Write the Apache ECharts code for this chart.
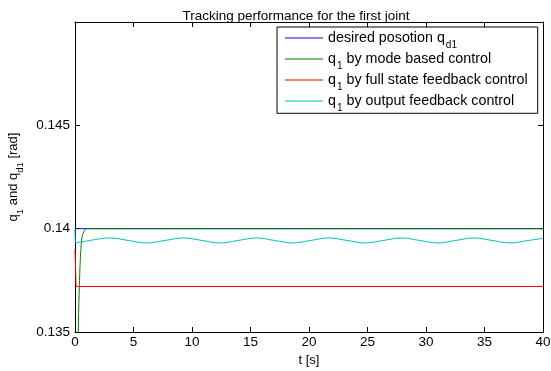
<!DOCTYPE html>
<html>
<head>
<meta charset="utf-8">
<script src="https://cdn.jsdelivr.net/npm/echarts@6/dist/echarts.min.js"></script>
<style>
  html, body { margin: 0; padding: 0; background: #fff; }
  #chart { width: 551px; height: 371px; }
</style>
</head>
<body>
<div id="chart"></div>
<script>
// Joint 1 position traces (time in seconds, angle in rad)
const seriesNames = [
  'desired posotion q_d1',
  'q_1 by mode based control',
  'q_1 by full state feedback control',
  'q_1 by output feedback control'
];
const seriesColors = ['#0000ff', '#008000', '#ff0000', '#00bfbf'];

const tDesired = [0, 40];
const qDesired = [0.14, 0.14];

const tMode = [0.2, 0.28, 0.35, 0.43, 0.5, 0.6, 0.75, 1.0, 40];
const qMode = [0.131, 0.135, 0.1368, 0.1382, 0.1390, 0.1396, 0.13985, 0.14, 0.14];

const tFull = [0, 0.09, 40];
const qFull = [0.139, 0.1372, 0.1372];

const tOutput = [0, 0.05, 0.3, 1.0, 2.0, 3.0, 4.55, 6.1, 7.7, 9.3, 10.85, 12.4, 13.95,
  15.5, 17.05, 18.6, 20.15, 21.7, 23.25, 24.8, 26.35, 27.9, 29.45, 31.0, 32.55,
  34.1, 35.65, 37.2, 38.75, 40];
const qOutput = [0.14, 0.13932, 0.13934, 0.13940, 0.13950, 0.13955, 0.13943, 0.13931,
  0.13943, 0.13955, 0.13943, 0.13931, 0.13943, 0.13955, 0.13943, 0.13931, 0.13943,
  0.13955, 0.13943, 0.13931, 0.13943, 0.13955, 0.13943, 0.13931, 0.13943, 0.13955,
  0.13943, 0.13931, 0.13943, 0.13953];

const xTicks = { min: 0, max: 40, step: 5 };
const yTicks = { min: 0.135, max: 0.15, step: 0.005 };

const titleText = 'Tracking performance for the first joint';
const xLabel = 't [s]';
const yLabel = 'q_1 and q_d1 [rad]';

// turn "q_xx" into rich-text with a subscript
function subscript(s) {
  const out = '{n|' + s.replace(/q_(\w+)/g, '}{n|q}{s|$1}{n|') + '}';
  return out.replace(/\{n\|\}/g, '');
}

function pairs(ts, qs) { return ts.map((t, i) => [t, qs[i]]); }

const font = 'Liberation Sans, Arial, Helvetica, sans-serif';
// subscript token: top-aligned and pushed down by its top padding
const legendRich = {
  n: { fontFamily: font, fontSize: 14.3, lineHeight: 16, color: '#000' },
  s: { fontFamily: font, fontSize: 10, lineHeight: 10, color: '#000', verticalAlign: 'top', padding: [10.3, 0, 0, 1] }
};
const axisRich = {
  n: { fontFamily: font, fontSize: 13, lineHeight: 15, color: '#000' },
  s: { fontFamily: font, fontSize: 9.5, lineHeight: 10, color: '#000', verticalAlign: 'top', padding: [9.5, 0, 0, 0] }
};

const chart = echarts.init(document.getElementById('chart'), null, { renderer: 'canvas' });

const tickStyle = { show: true, inside: true, length: 5, lineStyle: { color: '#000', width: 1 } };
const lineStyleAxis = { show: true, onZero: false, lineStyle: { color: '#000', width: 1 } };

chart.setOption({
  animation: false,
  backgroundColor: '#fff',
  title: {
    text: titleText,
    left: 291, top: 4, textAlign: 'center',
    textStyle: { fontFamily: font, fontSize: 13.5, fontWeight: 'normal', color: '#000' }
  },
  grid: { left: 75, right: 8, top: 22, bottom: 39, containLabel: false, outerBoundsMode: 'none' },
  legend: {
    orient: 'vertical',
    left: 277, top: 27,
    padding: [3, 10, 0, 8],
    itemGap: 0.7,
    itemWidth: 38, itemHeight: 1,
    icon: 'rect',
    backgroundColor: '#fff',
    borderColor: '#000', borderWidth: 1,
    data: seriesNames,
    formatter: name => subscript(name),
    textStyle: { rich: legendRich }
  },
  xAxis: [{
    type: 'value', position: 'bottom',
    min: xTicks.min, max: xTicks.max, interval: xTicks.step,
    name: xLabel, nameLocation: 'middle', nameGap: 11,
    nameTextStyle: { fontFamily: font, fontSize: 13, color: '#000' },
    axisLine: lineStyleAxis, axisTick: tickStyle,
    axisLabel: { margin: 3, fontFamily: font, fontSize: 13.5, color: '#000' },
    splitLine: { show: false }
  }, {
    type: 'value', position: 'top',
    min: xTicks.min, max: xTicks.max, interval: xTicks.step,
    axisLine: lineStyleAxis, axisTick: tickStyle,
    axisLabel: { show: false }, splitLine: { show: false }
  }],
  yAxis: [{
    type: 'value', position: 'left',
    min: yTicks.min, max: yTicks.max, interval: yTicks.step,
    name: subscript(yLabel), nameLocation: 'middle', nameGap: 54, nameRotate: 90,
    nameTextStyle: { rich: axisRich },
    axisLine: lineStyleAxis, axisTick: tickStyle,
    axisLabel: {
      margin: 5, fontFamily: font, fontSize: 13.5, color: '#000',
      formatter: v => (v > yTicks.max - 1e-6 ? '' : String(+v.toFixed(3)))
    },
    splitLine: { show: false }
  }, {
    type: 'value', position: 'right',
    min: yTicks.min, max: yTicks.max, interval: yTicks.step,
    axisLine: lineStyleAxis, axisTick: tickStyle,
    axisLabel: { show: false }, splitLine: { show: false }
  }],
  series: [
    { name: seriesNames[0], data: pairs(tDesired, qDesired) },
    { name: seriesNames[1], data: pairs(tMode, qMode), smooth: 0.3 },
    { name: seriesNames[2], data: pairs(tFull, qFull) },
    { name: seriesNames[3], data: pairs(tOutput, qOutput), smooth: 0.4 }
  ].map((s, i) => Object.assign({
    type: 'line', xAxisIndex: 0, yAxisIndex: 0, symbol: 'none', clip: true,
    color: seriesColors[i],
    lineStyle: { width: 1, color: seriesColors[i] }
  }, s))
});
</script>
</body>
</html>
